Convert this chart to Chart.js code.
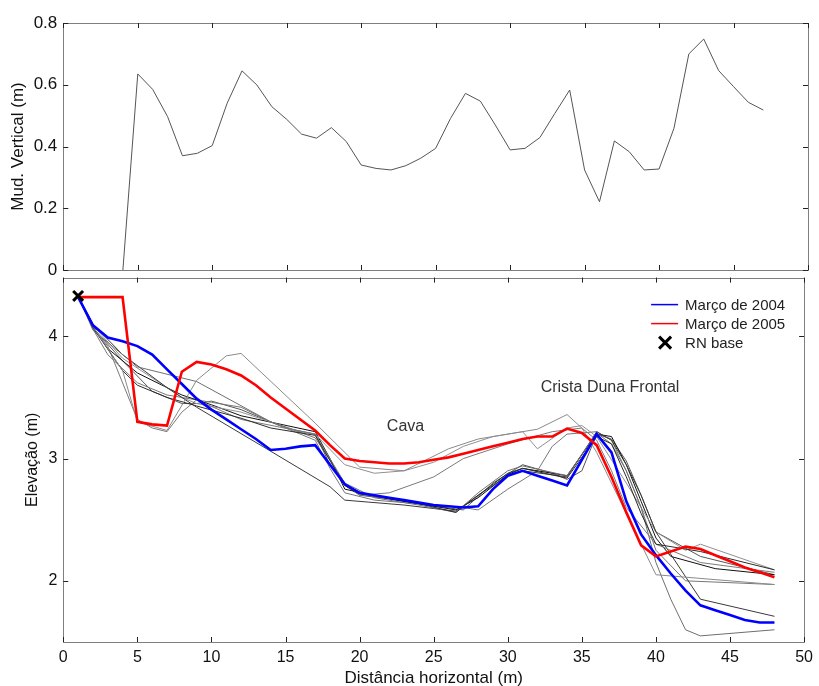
<!DOCTYPE html>
<html>
<head>
<meta charset="utf-8">
<script src="https://cdn.jsdelivr.net/npm/chart.js@4.4.1/dist/chart.umd.min.js"></script>
<style>
  html, body { margin: 0; padding: 0; background: #fff; }
  #wrap { position: relative; width: 819px; height: 686px; }
  canvas { position: absolute; left: 0; }
  #top { top: 0; }
  #bottom { top: 262px; }
</style>
</head>
<body>
<div id="wrap">
  <canvas id="top" width="819" height="290"></canvas>
  <canvas id="bottom" width="819" height="424"></canvas>
</div>
<script>
'use strict';

// ticks
const distTicks = [0, 5, 10, 15, 20, 25, 30, 35, 40, 45, 50];
const mudTicks = [0, 0.2, 0.4, 0.6, 0.8];
const elevTicks = [2, 3, 4];

// upper panel: vertical change (m)
const mudX = [4, 5, 6, 7, 8, 9, 10, 11, 12, 13, 14, 15, 16, 17, 18, 19, 20, 21, 22, 23, 24, 25,
  26, 27, 28, 29, 30, 31, 32, 33, 34, 35, 36, 37, 38, 39, 40, 41, 42, 43, 44, 45, 46, 47];
const mudY = [0, 0.635, 0.585, 0.497, 0.370, 0.378, 0.403, 0.540, 0.645, 0.599, 0.529, 0.488,
  0.440, 0.427, 0.461, 0.416, 0.340, 0.329, 0.324, 0.338, 0.362, 0.394, 0.491, 0.572, 0.547,
  0.470, 0.389, 0.394, 0.429, 0.507, 0.583, 0.324, 0.221, 0.418, 0.383, 0.324, 0.327, 0.459,
  0.700, 0.748, 0.646, 0.594, 0.543, 0.518];

// lower panel: profiles, one point per metre
const profX = [1, 2, 3, 4, 5, 6, 7, 8, 9, 10, 11, 12, 13, 14, 15, 16, 17, 18, 19, 20, 21, 22, 23, 24,
  25, 26, 27, 28, 29, 30, 31, 32, 33, 34, 35, 36, 37, 38, 39, 40, 41, 42, 43, 44, 45, 46, 47, 48];
const marco2004 = [4.32, 4.09, 3.99, 3.96, 3.92, 3.85, 3.73, 3.61, 3.49, 3.40, 3.32, 3.24, 3.16, 3.07,
  3.08, 3.10, 3.11, 2.95, 2.79, 2.72, 2.70, 2.68, 2.66, 2.64, 2.62, 2.61, 2.60, 2.61, 2.75, 2.86,
  2.90, 2.86, 2.82, 2.78, 2.99, 3.20, 3.05, 2.65, 2.38, 2.21, 2.06, 1.92, 1.80, 1.76, 1.72, 1.68,
  1.66, 1.66];
const marco2005 = [4.32, 4.32, 4.32, 4.32, 3.30, 3.28, 3.27, 3.71, 3.79, 3.77, 3.73, 3.68, 3.60, 3.50,
  3.41, 3.32, 3.23, 3.11, 3.00, 2.98, 2.97, 2.96, 2.96, 2.97, 2.99, 3.01, 3.04, 3.07, 3.10, 3.13,
  3.16, 3.18, 3.18, 3.245, 3.21, 3.11, 2.85, 2.56, 2.29, 2.20, 2.24, 2.28, 2.26, 2.21, 2.16, 2.11,
  2.07, 2.03];

// intermediate surveys (grey lines)
const survAx = [1, 2, 4, 5, 7, 9, 11, 12, 17, 20, 23, 26, 28, 30, 32, 34, 35, 36, 38, 40, 48];
const survAy = [4.33, 4.08, 3.72, 3.30, 3.23, 3.64, 3.84, 3.86, 3.29, 2.93, 2.90, 3.08, 3.16, 3.20, 3.24, 3.36, 3.25, 3.05, 2.55, 2.05, 1.97];
const survBx = [1, 2, 4, 5, 7, 9, 12, 14, 17, 19, 20, 23, 26.5, 28, 30, 31, 34, 36, 37, 38, 39, 40, 43, 48];
const survBy = [4.33, 4.07, 3.72, 3.60, 3.50, 3.43, 3.33, 3.25, 3.19, 2.78, 2.71, 2.66, 2.56, 2.70, 2.88, 2.92, 2.84, 3.18, 3.12, 2.85, 2.55, 2.30, 2.24, 2.09];
const survCx = [1, 2, 3, 5, 6, 7, 8, 9, 12, 17, 19, 20, 22, 25, 27, 30, 33, 35, 36, 37, 38, 40, 43, 48];
const survCy = [4.33, 4.07, 3.92, 3.32, 3.25, 3.22, 3.38, 3.48, 3.32, 3.20, 2.80, 2.70, 2.72, 2.85, 3.00, 3.12, 3.22, 3.25, 3.15, 2.90, 2.60, 2.30, 2.15, 2.07];
const survDx = [1, 2, 5, 9, 14, 17, 19, 21, 24, 26.5, 28, 30, 31, 34, 36, 37, 38, 39, 40, 41, 42, 43, 48];
const survDy = [4.33, 4.05, 3.75, 3.63, 3.30, 3.17, 2.80, 2.68, 2.62, 2.56, 2.72, 2.90, 2.94, 2.86, 3.21, 3.12, 2.90, 2.60, 2.15, 1.85, 1.60, 1.55, 1.60];
const survEx = [1, 2, 4, 7, 9, 14, 18, 19, 23, 26.5, 28, 30, 31, 34, 36, 37, 38, 39, 40, 43, 48];
const survEy = [4.33, 4.10, 3.85, 3.58, 3.42, 3.06, 2.77, 2.66, 2.62, 2.57, 2.70, 2.86, 2.90, 2.85, 3.22, 3.15, 2.95, 2.70, 2.40, 1.85, 1.71];
const survFx = [1, 2, 4, 8, 9, 12, 16, 17, 19, 21, 23, 25, 27, 29, 31, 32, 34, 35, 36, 38, 40, 42, 43, 48];
const survFy = [4.33, 4.09, 3.82, 3.50, 3.45, 3.38, 3.22, 3.20, 2.95, 2.88, 2.90, 2.97, 3.10, 3.18, 3.22, 3.08, 3.25, 3.27, 3.18, 2.80, 2.40, 2.25, 2.30, 2.09];
const survGx = [1, 2, 3, 5, 8, 10, 12, 17, 18, 19, 22, 26.5, 28, 30, 31, 33, 34, 36, 37, 38, 39, 40, 41, 44, 48];
const survGy = [4.33, 4.08, 3.90, 3.70, 3.52, 3.44, 3.35, 3.22, 3.00, 2.75, 2.67, 2.58, 2.68, 2.87, 2.92, 2.88, 2.86, 3.20, 3.18, 2.95, 2.65, 2.35, 2.20, 2.10, 2.05];
const survHx = [1, 2, 3, 5, 7, 9, 10, 12, 14, 17, 18, 19, 21, 25, 27, 28, 30, 32, 33, 34, 36, 37, 38, 39, 40, 42, 48];
const survHy = [4.33, 4.06, 3.85, 3.62, 3.52, 3.48, 3.46, 3.42, 3.30, 3.15, 2.92, 2.72, 2.66, 2.62, 2.60, 2.58, 2.75, 2.90, 3.10, 3.20, 3.22, 3.15, 2.90, 2.60, 2.25, 2.00, 1.97];
const survIx = [1, 2, 4, 6, 8, 9, 10, 12, 15, 17, 18, 19, 20, 22, 24, 27, 29, 31, 33, 34, 35, 36, 37, 38, 39, 40, 43, 48];
const survIy = [4.33, 4.07, 3.80, 3.55, 3.45, 3.45, 3.47, 3.40, 3.25, 3.20, 2.95, 2.78, 2.70, 2.67, 2.63, 2.58, 2.80, 2.95, 2.88, 2.83, 2.90, 3.20, 3.16, 2.98, 2.70, 2.40, 2.20, 2.05];

const rnBase = { x: 1, y: 4.33 };

const notes = [
  { text: 'Cava', x: 23.1, y: 3.26 },
  { text: 'Crista Duna Frontal', x: 36.9, y: 3.58 }
];

const FONT = '"Liberation Sans", Arial, sans-serif';
const pts = (xs, ys) => xs.map((x, i) => ({ x, y: ys[i] }));

// box around the axes with inward ticks on all sides
const frame = {
  id: 'frame',
  afterDraw(chart) {
    const { ctx, chartArea: a, scales } = chart;
    ctx.save();
    ctx.strokeStyle = '#7f7f7f';
    ctx.lineWidth = 1;
    ctx.strokeRect(Math.round(a.left) + 0.5, Math.round(a.top) + 0.5,
      Math.round(a.right - a.left), Math.round(a.bottom - a.top));
    ctx.strokeStyle = '#222';
    ctx.beginPath();
    scales.x.ticks.forEach(t => {
      const px = Math.round(scales.x.getPixelForValue(t.value)) + 0.5;
      ctx.moveTo(px, a.top); ctx.lineTo(px, a.top + 5);
      ctx.moveTo(px, a.bottom); ctx.lineTo(px, a.bottom - 5);
    });
    scales.y.ticks.forEach(t => {
      const py = Math.round(scales.y.getPixelForValue(t.value)) + 0.5;
      ctx.moveTo(a.left, py); ctx.lineTo(a.left + 5, py);
      ctx.moveTo(a.right, py); ctx.lineTo(a.right - 5, py);
    });
    ctx.stroke();
    ctx.restore();
  }
};

// text notes and the legend of the lower panel
const extras = {
  id: 'extras',
  afterDraw(chart) {
    const { ctx, chartArea: a, scales: { x, y } } = chart;
    ctx.save();
    ctx.font = '16px ' + FONT;
    ctx.fillStyle = '#333';
    ctx.textAlign = 'center';
    ctx.textBaseline = 'middle';
    notes.forEach(n => ctx.fillText(n.text, x.getPixelForValue(n.x), y.getPixelForValue(n.y)));

    const items = chart.data.datasets.filter(d => d.inLegend);
    const tx = a.right - 119;
    let ty = a.top + 27;
    ctx.font = '15px ' + FONT;
    ctx.textAlign = 'left';
    ctx.fillStyle = '#222';
    items.forEach(d => {
      if (d.showLine === false) {
        const cx = tx - 20;
        ctx.strokeStyle = '#000';
        ctx.lineWidth = 3;
        ctx.beginPath();
        ctx.moveTo(cx - 6, ty - 6); ctx.lineTo(cx + 6, ty + 6);
        ctx.moveTo(cx + 6, ty - 6); ctx.lineTo(cx - 6, ty + 6);
        ctx.stroke();
      } else {
        ctx.strokeStyle = d.borderColor;
        ctx.lineWidth = 1.5;
        ctx.beginPath();
        ctx.moveTo(tx - 34, ty); ctx.lineTo(tx - 7, ty);
        ctx.stroke();
      }
      ctx.fillText(d.label, tx, ty + 1);
      ty += 19;
    });
    ctx.restore();
  }
};

const tickFont = { family: FONT, size: 16 };
const noGrid = { display: false, drawTicks: false };

new Chart(document.getElementById('top'), {
  type: 'line',
  data: {
    datasets: [{
      data: pts(mudX, mudY),
      borderColor: '#555',
      borderWidth: 1,
      pointRadius: 0,
      tension: 0
    }]
  },
  options: {
    responsive: false,
    animation: false,
    layout: { padding: { left: 0, right: 11, top: 23, bottom: 0 } },
    plugins: { legend: { display: false }, tooltip: { enabled: false } },
    scales: {
      x: {
        type: 'linear', min: 0, max: 50,
        afterBuildTicks: s => { s.ticks = distTicks.map(v => ({ value: v })); },
        ticks: { display: false },
        grid: noGrid,
        border: { display: false },
        afterFit: s => { s.height = 20; }
      },
      y: {
        type: 'linear', min: 0, max: 0.8,
        afterBuildTicks: s => { s.ticks = mudTicks.map(v => ({ value: v })); },
        ticks: { font: { family: FONT, size: 17 }, color: '#111', padding: 6 },
        grid: noGrid,
        border: { display: false },
        title: {
          display: true, text: 'Mud. Vertical (m)', color: '#111',
          font: { family: FONT, size: 17 }, padding: { top: 8, bottom: 0 }
        },
        afterFit: s => { s.width = 63.3; }
      }
    }
  },
  plugins: [frame]
});

const grey = (xs, ys, color) => ({
  data: pts(xs, ys), borderColor: color, borderWidth: 1, pointRadius: 0, tension: 0, order: 5
});

new Chart(document.getElementById('bottom'), {
  type: 'line',
  data: {
    datasets: [
      { label: 'Março de 2004', inLegend: true, data: pts(profX, marco2004), borderColor: '#0000ff',
        borderWidth: 2.6, pointRadius: 0, tension: 0, order: 2 },
      { label: 'Março de 2005', inLegend: true, data: pts(profX, marco2005), borderColor: '#ff0000',
        borderWidth: 2.6, pointRadius: 0, tension: 0, order: 1 },
      { label: 'RN base', inLegend: true, data: [rnBase], showLine: false, pointStyle: 'crossRot',
        pointRadius: 7, borderWidth: 3, borderColor: '#000', order: 0 },
      grey(survAx, survAy, '#8a8a8a'),
      grey(survBx, survBy, '#2b2b2b'),
      grey(survCx, survCy, '#7a7a7a'),
      grey(survDx, survDy, '#6e6e6e'),
      grey(survEx, survEy, '#3a3a3a'),
      grey(survFx, survFy, '#909090'),
      grey(survGx, survGy, '#111111'),
      grey(survHx, survHy, '#777777'),
      grey(survIx, survIy, '#555555')
    ]
  },
  options: {
    responsive: false,
    animation: false,
    layout: { padding: { left: 0, right: 11, top: 9, bottom: 0 } },
    plugins: { legend: { display: false }, tooltip: { enabled: false } },
    scales: {
      x: {
        type: 'linear', min: 0, max: 50,
        afterBuildTicks: s => { s.ticks = distTicks.map(v => ({ value: v })); },
        ticks: { font: tickFont, color: '#111', padding: 6, maxRotation: 0 },
        grid: noGrid,
        border: { display: false },
        title: {
          display: true, text: 'Distância horizontal (m)', color: '#111',
          font: { family: FONT, size: 17, lineHeight: 1 }, padding: { top: 0, bottom: -1 }
        },
        afterFit: s => { s.height = 44; }
      },
      y: {
        type: 'linear', min: 1.5, max: 4.48,
        afterBuildTicks: s => { s.ticks = elevTicks.map(v => ({ value: v })); },
        ticks: { font: tickFont, color: '#111', padding: 6 },
        grid: noGrid,
        border: { display: false },
        title: {
          display: true, text: 'Elevação (m)', color: '#111',
          font: { family: FONT, size: 16 }, padding: { top: 23, bottom: 0 }
        },
        afterFit: s => { s.width = 63.3; }
      }
    }
  },
  plugins: [frame, extras]
});
</script>
</body>
</html>
